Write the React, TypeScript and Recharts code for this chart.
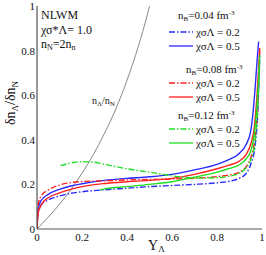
import React from "react";
import { Line, LineChart, XAxis, YAxis } from "recharts";

// x ticks and y ticks (Y_Lambda and dn_L/dn_N)
const xTicks = [0, 0.2, 0.4, 0.6, 0.8, 1];
const yTicks = [0, 0.2, 0.4, 0.6, 0.8, 1];

// n_Lambda / n_N (gray)
const ratioCurve = [
  [0, 0], [0.05, 0.053], [0.1, 0.111], [0.15, 0.176], [0.2, 0.25], [0.25, 0.333],
  [0.3, 0.429], [0.35, 0.538], [0.4, 0.667], [0.45, 0.818], [0.49, 0.96], [0.5, 1.0],
];

// nB = 0.04, chi = 0.2 (blue dash-dot)
const b04x02 = [
  [0, 0], [0.005, 0.08], [0.02, 0.11], [0.05, 0.13], [0.1, 0.148], [0.15, 0.16],
  [0.2, 0.167], [0.3, 0.176], [0.4, 0.183], [0.5, 0.19], [0.6, 0.195], [0.7, 0.2],
  [0.8, 0.207], [0.85, 0.213], [0.9, 0.228], [0.93, 0.25], [0.95, 0.29], [0.97, 0.38],
  [0.98, 0.5], [0.985, 0.62], [0.99, 0.78],
];
// nB = 0.04, chi = 0.5 (blue solid)
const b04x05 = [
  [0, 0], [0.005, 0.09], [0.02, 0.13], [0.05, 0.155], [0.1, 0.178], [0.15, 0.193],
  [0.2, 0.203], [0.3, 0.218], [0.4, 0.227], [0.5, 0.234], [0.6, 0.245], [0.7, 0.265],
  [0.8, 0.29], [0.85, 0.31], [0.9, 0.34], [0.93, 0.38], [0.95, 0.44], [0.96, 0.52],
  [0.97, 0.64], [0.98, 0.78], [0.985, 0.84],
];
// nB = 0.08, chi = 0.2 (red dash-dot)
const b08x02 = [
  [0, 0], [0.005, 0.11], [0.02, 0.15], [0.05, 0.175], [0.1, 0.197], [0.15, 0.208],
  [0.2, 0.213], [0.3, 0.216], [0.4, 0.22], [0.5, 0.222], [0.6, 0.224], [0.7, 0.228],
  [0.8, 0.235], [0.85, 0.242], [0.9, 0.255], [0.93, 0.28], [0.95, 0.32], [0.97, 0.42],
  [0.98, 0.55], [0.985, 0.68], [0.99, 0.81],
];
// nB = 0.08, chi = 0.5 (red solid)
const b08x05 = [
  [0, 0], [0.005, 0.07], [0.02, 0.11], [0.05, 0.14], [0.1, 0.162], [0.15, 0.178],
  [0.2, 0.19], [0.3, 0.204], [0.4, 0.212], [0.5, 0.218], [0.6, 0.227], [0.7, 0.245],
  [0.8, 0.27], [0.85, 0.285], [0.9, 0.305], [0.93, 0.335], [0.95, 0.38], [0.965, 0.45],
  [0.975, 0.56], [0.985, 0.72], [0.99, 0.81],
];
// nB = 0.12, chi = 0.2 (green dash-dot)
const b12x02 = [
  [0.105, 0.284], [0.15, 0.296], [0.2, 0.302], [0.25, 0.3], [0.3, 0.29], [0.4, 0.27],
  [0.5, 0.255], [0.57, 0.243], [0.65, 0.232], [0.7, 0.228], [0.8, 0.23], [0.85, 0.236],
  [0.9, 0.25], [0.93, 0.275], [0.95, 0.31], [0.97, 0.4], [0.98, 0.52], [0.99, 0.75],
];
// nB = 0.12, chi = 0.5 (green solid)
const b12x05 = [
  [0.28, 0.175], [0.3, 0.18], [0.4, 0.19], [0.5, 0.2], [0.6, 0.212], [0.7, 0.232],
  [0.8, 0.255], [0.85, 0.27], [0.9, 0.288], [0.93, 0.315], [0.95, 0.35], [0.965, 0.42],
  [0.975, 0.52], [0.985, 0.67], [0.99, 0.78],
];

const toRows = (pts: number[][]) => pts.map(([x, y]) => ({ x, y }));

const BLUE = "#2a2aff";
const RED = "#ff2020";
const GREEN = "#22dd22";
const DASHDOT = "6 2 1.5 2";
const FRAME = "#555";
const FONT = "Liberation Serif, Times New Roman, serif";

const series = [
  { name: "b04x02", pts: b04x02, color: BLUE, dash: DASHDOT },
  { name: "b04x05", pts: b04x05, color: BLUE, dash: undefined },
  { name: "b08x02", pts: b08x02, color: RED, dash: DASHDOT },
  { name: "b08x05", pts: b08x05, color: RED, dash: undefined },
  { name: "b12x02", pts: b12x02, color: GREEN, dash: DASHDOT },
  { name: "b12x05", pts: b12x05, color: GREEN, dash: undefined },
];

function Overlay() {
  const legendRow = (y: number, color: string, dash: string | undefined, label: string) => (
    <g key={label + y}>
      <line x1={169} x2={193} y1={y} y2={y} stroke={color} strokeWidth={1.3} strokeDasharray={dash} />
      <text x={196} y={y + 4} fontSize={11}>{label}</text>
    </g>
  );
  const nb = (x: number, y: number, v: string) => (
    <text x={x} y={y} fontSize={11}>
      n<tspan fontSize={7} dy={2}>B</tspan>
      <tspan dy={-2}>={v} fm</tspan>
      <tspan fontSize={7} dy={-4}>-3</tspan>
    </text>
  );
  return (
    <svg
      width={266}
      height={255}
      style={{ position: "absolute", left: 0, top: 0, pointerEvents: "none", fontFamily: FONT }}
    >
      <g fill="#111">
        <text x={41} y={19} fontSize={12}>NLWM</text>
        <text x={41} y={34} fontSize={12}>χσ*Λ= 1.0</text>
        <text x={41} y={48} fontSize={12}>
          n<tspan fontSize={8} dy={2}>N</tspan>
          <tspan dy={-2}>=2n</tspan>
          <tspan fontSize={8} dy={2}>n</tspan>
        </text>
        <text x={92} y={104} fontSize={10}>
          n<tspan fontSize={7} dy={2}>Λ</tspan>
          <tspan dy={-2}>/n</tspan>
          <tspan fontSize={7} dy={2}>N</tspan>
        </text>
        {nb(178, 19, "0.04")}
        {legendRow(32, BLUE, DASHDOT, "χσΛ = 0.2")}
        {legendRow(46, BLUE, undefined, "χσΛ = 0.5")}
        {nb(186, 73, "0.08")}
        {legendRow(83, RED, DASHDOT, "χσΛ = 0.2")}
        {legendRow(97, RED, undefined, "χσΛ = 0.5")}
        {nb(178, 119, "0.12")}
        {legendRow(129, GREEN, DASHDOT, "χσΛ = 0.2")}
        {legendRow(143, GREEN, undefined, "χσΛ = 0.5")}
        <text x={148} y={250} fontSize={14}>
          Y<tspan fontSize={9} dy={2}>Λ</tspan>
        </text>
        <text transform="translate(15,103) rotate(-90)" textAnchor="middle" fontSize={14}>
          δn<tspan fontSize={9} dy={3}>Λ</tspan>
          <tspan dy={-3}>/δn</tspan>
          <tspan fontSize={9} dy={3}>N</tspan>
        </text>
      </g>
    </svg>
  );
}

export default function App() {
  const tickStyle = { fontSize: 11, fill: "#111", fontFamily: FONT };
  return (
    <div style={{ position: "absolute", left: 0, top: 0, width: 266, height: 255, background: "#fff" }}>
      <LineChart width={266} height={255} margin={{ top: 6, right: 4, left: 0, bottom: 0 }}>
        <XAxis
          xAxisId="b"
          dataKey="x"
          type="number"
          domain={[0, 1]}
          ticks={xTicks}
          allowDataOverflow
          height={26}
          tickLine={false}
          tickSize={0}
          tickMargin={4}
          axisLine={{ stroke: FRAME, strokeWidth: 1.2 }}
          tick={tickStyle}
        />
        <XAxis
          xAxisId="bIn"
          type="number"
          domain={[0, 1]}
          ticks={xTicks}
          allowDataOverflow
          mirror
          height={0}
          tickSize={4}
          tick={false}
          axisLine={false}
          tickLine={{ stroke: FRAME }}
        />
        <XAxis
          xAxisId="t"
          orientation="top"
          type="number"
          domain={[0, 1]}
          ticks={xTicks}
          allowDataOverflow
          mirror
          height={0}
          tickSize={4}
          tick={false}
          axisLine={{ stroke: FRAME, strokeWidth: 1.2 }}
          tickLine={{ stroke: FRAME }}
        />
        <YAxis
          yAxisId="l"
          type="number"
          domain={[0, 1]}
          ticks={yTicks}
          allowDataOverflow
          width={37}
          tickLine={false}
          tickSize={0}
          tickMargin={2}
          axisLine={{ stroke: FRAME, strokeWidth: 1.2 }}
          tick={tickStyle}
        />
        <YAxis
          yAxisId="lIn"
          type="number"
          domain={[0, 1]}
          ticks={yTicks}
          allowDataOverflow
          mirror
          width={0}
          tickSize={4}
          tick={false}
          axisLine={false}
          tickLine={{ stroke: FRAME }}
        />
        <YAxis
          yAxisId="r"
          orientation="right"
          type="number"
          domain={[0, 1]}
          ticks={yTicks}
          allowDataOverflow
          mirror
          width={0}
          tickSize={4}
          tick={false}
          axisLine={{ stroke: FRAME, strokeWidth: 1.2 }}
          tickLine={{ stroke: FRAME }}
        />
        <Line
          xAxisId="b"
          yAxisId="l"
          data={toRows(ratioCurve)}
          dataKey="y"
          type="monotone"
          stroke="#888"
          strokeWidth={1}
          dot={false}
          isAnimationActive={false}
        />
        {series.map((s) => (
          <Line
            key={s.name}
            xAxisId="b"
            yAxisId="l"
            data={toRows(s.pts)}
            dataKey="y"
            type="monotone"
            stroke={s.color}
            strokeWidth={1.4}
            strokeDasharray={s.dash}
            dot={false}
            isAnimationActive={false}
          />
        ))}
      </LineChart>
      <Overlay />
    </div>
  );
}
